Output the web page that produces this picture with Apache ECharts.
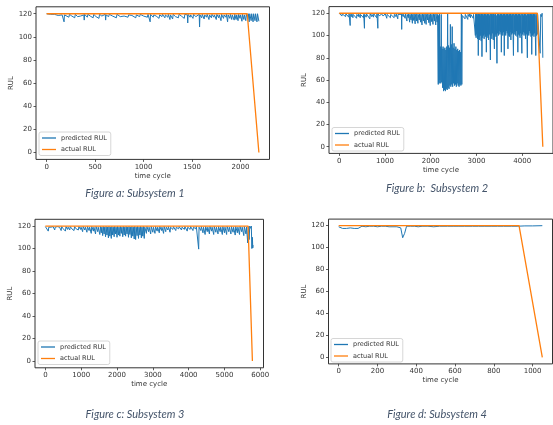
<!DOCTYPE html>
<html>
<head>
<meta charset="utf-8">
<script src="https://cdn.jsdelivr.net/npm/echarts@6/dist/echarts.min.js"></script>
<style>
html,body{margin:0;padding:0;background:#fff;}
#chart{width:553px;height:425px;}
</style>
</head>
<body>
<div id="chart"></div>
<script>
// ---------- DATA ----------
const seriesNames = ['predicted RUL', 'actual RUL'];
const captions = ['Figure a: Subsystem 1', 'Figure b:  Subsystem 2', 'Figure c: Subsystem 3', 'Figure d: Subsystem 4'];
const yTicks = [0, 20, 40, 60, 80, 100, 120];
const xTicksA = [0, 500, 1000, 1500, 2000];
const xTicksB = [0, 1000, 2000, 3000, 4000];
const xTicksC = [0, 1000, 2000, 3000, 4000, 5000, 6000];
const xTicksD = [0, 200, 400, 600, 800, 1000];

// predicted RUL, read as [time cycle, RUL] points
const predictedA = [
 [0,120],[20,119],[40,119.5],[60,118.5],[80,119.5],[100,119],[120,118.5],[140,119.5],[160,119],
 [176,119],[180,113],[184,119],
 [200,119.5],[230,117],[236,119.5],[260,118],[266,119.5],[290,116.5],[296,119.5],[320,117.5],[326,119],[350,118],[356,119.5],
 [384,119],[388,114.5],[392,119.5],
 [420,117],[426,119.5],[450,118],[456,119],[480,116.5],[486,119.5],[510,117.5],[516,119],[540,116],[546,119.5],[570,118],[576,119],
 [605,119.5],[609,114.5],[613,119],
 [640,117.5],[646,119.5],[680,118],[686,119],[720,116.5],[726,119.5],[760,117.5],[766,119],[800,118],[806,119.5],[840,117],[846,119],
 [880,118.5],[886,119.5],[920,116.5],[926,119],[960,117.5],[966,119.5],[1000,118],[1006,119],[1040,117],[1046,119.5],
 [1064,119],[1068,113],[1072,119.5],
 [1100,117],[1106,119],[1130,118],[1136,119.5],[1160,116],[1166,119],[1190,117.5],[1196,119.5],[1220,116.5],[1226,119],
 [1250,117],[1256,119.5],[1272,115],[1278,119],[1300,115.5],[1306,119.5],[1330,117.5],[1336,119],[1360,116.5],[1366,119.5],
 [1390,118],[1396,119],[1420,116],[1426,119.5],
 [1452,119],[1456,112],[1460,119.5],
 [1480,117],[1486,119],[1510,116],[1516,119.5],[1540,117.5],[1546,119],
 [1574,119.5],[1578,108.5],[1582,119],
 [1600,116.5],[1606,119.5],[1625,115.5],[1631,119],[1650,117],[1656,119.5],[1675,115],[1681,119],[1700,116.5],[1706,119.5],
 [1725,117],[1731,119],[1750,115],[1756,119.5],[1775,116.5],[1781,119],
 [1799,114],[1805,119.5],[1825,116],[1831,119],[1849,117],[1855,119.5],[1867,113],[1873,119],[1890,116],[1896,119.5],[1910,115],[1916,119],
 [1935,114.5],[1941,119.5],[1955,115],[1961,119],[1975,114],[1981,119.5],[1995,116],[2001,119],[2015,113.5],[2021,119.5],[2035,115],[2041,119],[2055,114],[2061,119.5],
 [2075,116],[2081,120],[2090,113],[2096,120],[2110,114],[2116,120],[2130,113],[2136,120],[2150,114],[2156,120],[2170,113],[2176,120],[2190,113.5]
];
const actualA = [[0, 120], [2070, 120], [2190, 0]];

const predictedB = [
 [0,120],[20,118.5],[40,119.5],[60,117.5],[66,119.5],[100,118],[106,119.5],[140,117],[146,119.5],[180,118],[186,119.5],[210,116.5],[216,119.5],
 [236,119.5],[240,109],[244,119],
 [270,117],[276,119.5],[300,116],[306,119],[340,117.5],[346,119.5],[380,115.5],[386,119],[420,117],[426,119.5],[460,116],[466,119],[500,117.5],[506,119.5],[530,116],[536,119],
 [548,119.5],[552,106.5],[556,119],
 [590,116.5],[596,119.5],[630,118],[636,119],[670,115],[676,119.5],[710,117],[716,119],[750,116.5],[756,119.5],[790,118],[796,119],[820,116],[826,119.5],
 [841,119],[845,106.5],[849,119.5],
 [880,117.5],[886,119],[920,116],[926,119.5],[960,117.5],[966,119],[1000,118],[1006,119.5],[1040,115.5],[1046,119],[1080,117.5],[1086,119.5],
 [1120,116],[1126,119],[1160,118],[1166,119.5],[1200,116],[1206,119],[1240,117],[1246,119.5],[1280,115],[1286,119],[1320,117.5],[1326,119.5],
 [1362,119],[1366,105.5],[1370,119.5],
 [1400,117],[1406,119],[1440,115.5],[1446,119.5],[1480,113],[1486,119],[1510,116],[1516,119.5],[1540,112],[1546,119],[1570,114],[1576,119.5],
 [1600,111],[1606,119],[1630,113.5],[1636,119.5],[1660,110.5],[1666,119],[1690,113],[1696,119.5],[1720,111],[1726,119],[1750,114],[1756,119.5],
 [1780,112],[1786,119],[1810,109.5],[1816,119.5],[1840,113],[1846,119],[1870,111],[1876,119.5],[1900,110],[1906,119],[1930,114],[1936,119.5],
 [1960,111.5],[1966,119],[1990,109],[1996,119.5],[2020,112.5],[2026,119],[2050,110],[2056,119.5],[2080,113],[2086,119],[2110,109.5],[2116,119.5],[2140,112],[2150,119],
 [2165,56],[2170,118],[2175,58],[2180,95],[2185,57],[2190,120],[2200,60],[2210,90],[2220,57],[2230,119],[2240,58],[2250,88],[2260,53],[2270,90],
 [2280,50],[2290,88],[2300,51],[2310,89],[2320,50],[2330,87],[2340,52],[2350,90],[2360,51],[2370,120],[2380,53],[2390,91],[2400,52],[2410,89],
 [2420,55],[2430,110],[2440,54],[2450,92],[2460,56],[2470,108],[2480,54],[2490,89],[2500,57],[2510,93],[2520,55],[2530,88],[2540,56],[2550,90],
 [2560,54],[2570,87],[2580,57],[2590,88],[2600,55],[2610,86],[2620,54],[2630,87],[2640,56],[2650,85],[2660,55],[2670,120],[2680,56],[2690,118],[2700,119],
 [2720,117],[2726,119.5],[2750,115],[2756,119],[2780,118],[2786,119.5],[2810,114.5],[2816,119],[2840,117],[2846,119.5],[2870,116],[2876,119],
 [2900,118],[2906,119.5],[2930,115.5],[2936,119],[2960,119.5],
 [2976,100],[2984,120],[2992,98],[3000,119],[3008,101],[3016,120],[3024,97],[3032,118],[3040,82],[3048,120],[3056,99],[3064,119],[3072,96],[3080,120],
 [3088,100],[3096,118],[3104,95],[3112,120],[3120,81],[3128,119],[3136,98],[3144,120],[3152,100],[3160,118],[3168,97],[3176,120],[3184,101],[3192,119],
 [3200,99],[3208,120],[3216,85],[3224,118],[3232,98],[3240,120],[3248,100],[3256,119],[3264,96],[3272,120],[3280,101],[3288,118],[3296,99],[3304,78],
 [3312,120],[3320,100],[3328,119],[3336,97],[3344,120],[3352,102],[3360,118],[3368,96],[3376,120],[3384,100],[3392,88],[3400,119],[3408,99],[3416,120],
 [3424,101],[3432,118],[3440,98],[3448,75],[3456,120],[3464,102],[3472,119],[3480,100],[3488,120],[3496,104],[3504,118],[3512,101],[3520,120],[3528,103],
 [3536,119],[3544,85],[3552,120],[3560,102],[3568,118],[3576,100],[3584,120],[3592,103],[3600,119],[3608,82],[3616,120],[3624,101],[3632,118],[3640,100],
 [3648,120],[3656,104],[3664,119],[3672,102],[3680,120],[3688,88],[3696,118],[3704,100],[3712,120],[3720,99],[3728,119],[3736,103],[3744,120],[3752,96],
 [3760,118],[3768,101],[3776,120],[3784,102],[3792,119],[3800,100],[3808,82],[3816,120],[3824,101],[3832,118],[3840,103],[3848,120],[3856,100],[3864,119],
 [3872,104],[3880,120],[3888,99],[3896,118],[3904,85],[3912,120],[3920,101],[3928,119],[3936,100],[3944,120],[3952,98],[3960,118],[3968,102],[3976,120],
 [3984,99],[3992,84],[4000,119],[4008,101],[4016,120],[4024,103],[4032,118],[4040,100],[4048,120],[4056,102],[4064,119],[4072,97],[4080,120],[4088,101],
 [4096,118],[4104,99],[4112,80],[4120,120],[4128,101],[4136,119],[4144,100],[4152,120],[4160,104],[4168,118],[4176,102],[4184,120],[4192,99],[4200,119],
 [4208,83],[4216,120],[4224,100],[4232,118],[4240,101],[4248,120],[4256,99],[4264,119],[4272,102],[4280,120],[4288,98],[4296,82],[4304,118],[4312,100],
 [4320,120],[4328,101],[4336,119],
 [4360,118],[4375,120],[4390,84],[4405,119],[4420,117],[4435,120],[4450,80]
];
const actualB = [[0, 120], [4330, 120], [4450, 0]];

const predictedC = [
 [0,119.5],[15,118],[30,119.5],[80,115.5],[95,119],[140,117.5],[155,119],[200,118],[215,119.5],[260,116.5],[275,119],[320,117.5],[335,119.5],
 [380,118],[395,119],[440,116],[455,119.5],[500,117.5],[515,119],[560,115.5],[575,119.5],[620,117],[635,119],[680,116.5],[695,119.5],
 [740,117.5],[755,119],[800,116],[815,119.5],[860,117.5],[875,119],[920,116.5],[935,119.5],[980,117],[995,119],
 [1040,115],[1055,119.5],[1100,116.5],[1115,119],[1160,114.5],[1175,119.5],[1220,116],[1235,119],[1280,113.5],[1295,119.5],[1340,115.5],[1355,119],
 [1400,113],[1415,119.5],[1460,115],[1475,119],
 [1520,112.5],[1535,119.5],[1560,114],[1575,119],[1600,111.5],[1615,119.5],[1640,113],[1655,119],[1680,110.5],[1695,119.5],[1720,112],[1735,119],
 [1760,109.5],[1775,119.5],[1800,111],[1815,119],[1840,109],[1855,119.5],[1880,112],[1895,119],[1920,110.5],[1935,119.5],[1960,113],[1975,119],
 [2000,110],[2015,119.5],[2040,112],[2055,119],[2080,111],[2095,119.5],[2120,113.5],[2135,119],[2160,110.5],[2175,119.5],[2200,112],[2215,119],
 [2240,111],[2255,119.5],[2280,113],[2295,119],[2320,110],[2335,119.5],[2360,112.5],[2375,119],[2400,109.5],[2415,119.5],[2440,111],[2455,119],
 [2480,108.5],[2495,119.5],[2520,108],[2535,119],[2560,111.5],[2575,119.5],[2600,109],[2615,119],[2640,112],[2655,119.5],[2680,109.5],[2695,119],
 [2720,111],[2735,119.5],[2760,109],[2775,119],
 [2820,113.5],[2835,119.5],[2880,115],[2895,119],[2940,113],[2955,119.5],[3000,114.5],[3015,119],[3060,113.5],[3075,119.5],[3120,115.5],[3135,119],
 [3180,114],[3195,119.5],[3240,116],[3255,119],[3300,113.5],[3315,119.5],[3360,115],[3375,119],[3420,116.5],[3435,119.5],[3480,114.5],[3495,119],
 [3560,117],[3575,119.5],[3640,116],[3655,119],[3720,117.5],[3735,119.5],[3800,116.5],[3815,119],[3880,117],[3895,119.5],[3960,115.5],[3975,119],
 [4040,117],[4055,119.5],[4120,116],[4135,119],[4200,117.5],[4215,119.5],
 [4270,119],[4280,99.5],[4290,119],
 [4340,116],[4355,119.5],[4400,114],[4415,119],[4460,112.5],[4475,119.5],[4520,115],[4535,119],[4580,113],[4595,119.5],[4640,115.5],[4655,119],
 [4700,112.5],[4715,119.5],[4760,114.5],[4775,119],[4820,113],[4835,119.5],[4880,115],[4895,119],[4940,112.5],[4955,119.5],
 [5000,114],[5015,119],[5060,112.5],[5075,119.5],[5120,115],[5135,119],[5180,113],[5195,119.5],[5240,114.5],[5255,119],[5300,112],[5315,119.5],
 [5360,114],[5375,119],[5420,112.5],[5435,119.5],[5480,115],[5495,119],[5540,111.5],[5555,119.5],[5600,113],[5615,119],[5650,105],[5665,119.5],
 [5690,108],[5705,120],[5730,118],[5750,120],[5765,100],[5780,110],[5790,100.5],[5800,103]
];
const actualC = [[0, 120], [5660, 120], [5780, 0]];

const predictedD = [
 [0,119],[10,118],[20,117.5],[30,118],[40,117.5],[50,118.5],[60,118],[70,118.5],[80,117.5],[90,118],[100,117.5],[110,119],[120,119.5],
 [140,119],[160,119.5],[180,119.5],[200,119],[220,119.5],[240,119.5],[260,119],[280,119],[290,118.5],[300,119],[310,117.5],[320,118],
 [330,109],[340,113],[350,119.5],[360,120],[370,119.5],[390,119.5],[410,119],[430,119.5],[460,119.5],[490,119],[520,119.5],
 [560,119.5],[590,119.5],[620,119.5],[650,119.5],[690,119.5],[720,119.5],[750,119.5],[790,119.5],[820,119.5],[850,119.5],[890,119.5],[920,119.5],
 [930,120],[960,119.8],[1000,119.8],[1050,120]
];
const actualD = [[0, 120], [930, 120], [1050, 0]];

// ---------- CHART ----------
const BLUE = '#1f77b4', ORANGE = '#ff7f0e';
const FONT = 'DejaVu Sans';
const TXT = '#333';

const panels = [
  { grid: { left: 36, top: 6.8, width: 233.5, height: 152.6 }, xMin: -109.5, xMax: 2299.5, xTicks: xTicksA,
    pred: predictedA, act: actualA, legend: { left: 39, top: 132 }, cap: [135, 193] },
  { grid: { left: 329, top: 6.6, width: 224, height: 146.8 }, xMin: -222.5, xMax: 4672.5, xTicks: xTicksB,
    pred: predictedB, act: actualB, legend: { left: 332, top: 127.5 }, cap: [437, 188] },
  { grid: { left: 35, top: 219.3, width: 228.5, height: 148.5 }, xMin: -290, xMax: 6090, xTicks: xTicksC,
    pred: predictedC, act: actualC, legend: { left: 38, top: 341 }, cap: [135, 414] },
  { grid: { left: 328.5, top: 219.1, width: 224, height: 144.8 }, xMin: -52.5, xMax: 1102.5, xTicks: xTicksD,
    pred: predictedD, act: actualD, legend: { left: 331, top: 338.5 }, cap: [437, 414] }
];

const option = {
  animation: false,
  backgroundColor: '#fff',
  grid: [], xAxis: [], yAxis: [], series: [], legend: [], graphic: []
};

const plain = v => String(v);

panels.forEach((p, k) => {
  option.grid.push(Object.assign({ show: true, borderColor: '#333', borderWidth: 1, backgroundColor: 'transparent', containLabel: false }, p.grid));
  option.xAxis.push({
    type: 'value', gridIndex: k, min: p.xMin, max: p.xMax,
    name: 'time cycle', nameLocation: 'middle', nameGap: 13,
    nameTextStyle: { fontFamily: FONT, fontSize: 7, color: TXT },
    axisLine: { show: false, onZero: false },
    axisTick: { show: true, inside: false, length: 2.5, lineStyle: { color: '#333', width: 0.8 }, customValues: p.xTicks },
    axisLabel: { fontFamily: FONT, fontSize: 7, color: TXT, margin: 4, customValues: p.xTicks, formatter: plain },
    splitLine: { show: false }
  });
  option.yAxis.push({
    type: 'value', gridIndex: k, min: -6, max: 126,
    name: 'RUL', nameLocation: 'middle', nameGap: 21, nameRotate: 90,
    nameTextStyle: { fontFamily: FONT, fontSize: 7, color: TXT },
    axisLine: { show: false, onZero: false },
    axisTick: { show: true, inside: false, length: 2.5, lineStyle: { color: '#333', width: 0.8 }, customValues: yTicks },
    axisLabel: { fontFamily: FONT, fontSize: 7, color: TXT, margin: 4, customValues: yTicks, formatter: plain },
    splitLine: { show: false }
  });
  option.series.push({
    name: seriesNames[0], type: 'line', xAxisIndex: k, yAxisIndex: k, data: p.pred,
    showSymbol: false, symbol: 'none', color: BLUE, lineStyle: { width: 1, color: BLUE }, z: 2
  });
  option.series.push({
    name: seriesNames[1], type: 'line', xAxisIndex: k, yAxisIndex: k, data: p.act,
    showSymbol: false, symbol: 'none', color: ORANGE, lineStyle: { width: 1.3, color: ORANGE }, z: 3
  });
  option.legend.push({
    data: seriesNames, orient: 'vertical', left: p.legend.left, top: p.legend.top,
    icon: 'rect', itemWidth: 14, itemHeight: 1.3, itemGap: 3.5,
    padding: [2, 4, 2, 3], borderColor: '#cccccc', borderWidth: 0.8, borderRadius: 2,
    backgroundColor: 'rgba(255,255,255,0.85)',
    textStyle: { fontFamily: FONT, fontSize: 6.5, color: TXT, lineHeight: 8 }
  });
  option.graphic.push({
    type: 'text', x: p.cap[0], y: p.cap[1],
    style: { text: captions[k], fontFamily: 'Lato', fontStyle: 'italic', fontSize: 11, fill: '#44546A',
             align: 'center', verticalAlign: 'middle' }
  });
});

const chart = echarts.init(document.getElementById('chart'), null, { renderer: 'canvas' });
chart.setOption(option);
</script>
</body>
</html>
